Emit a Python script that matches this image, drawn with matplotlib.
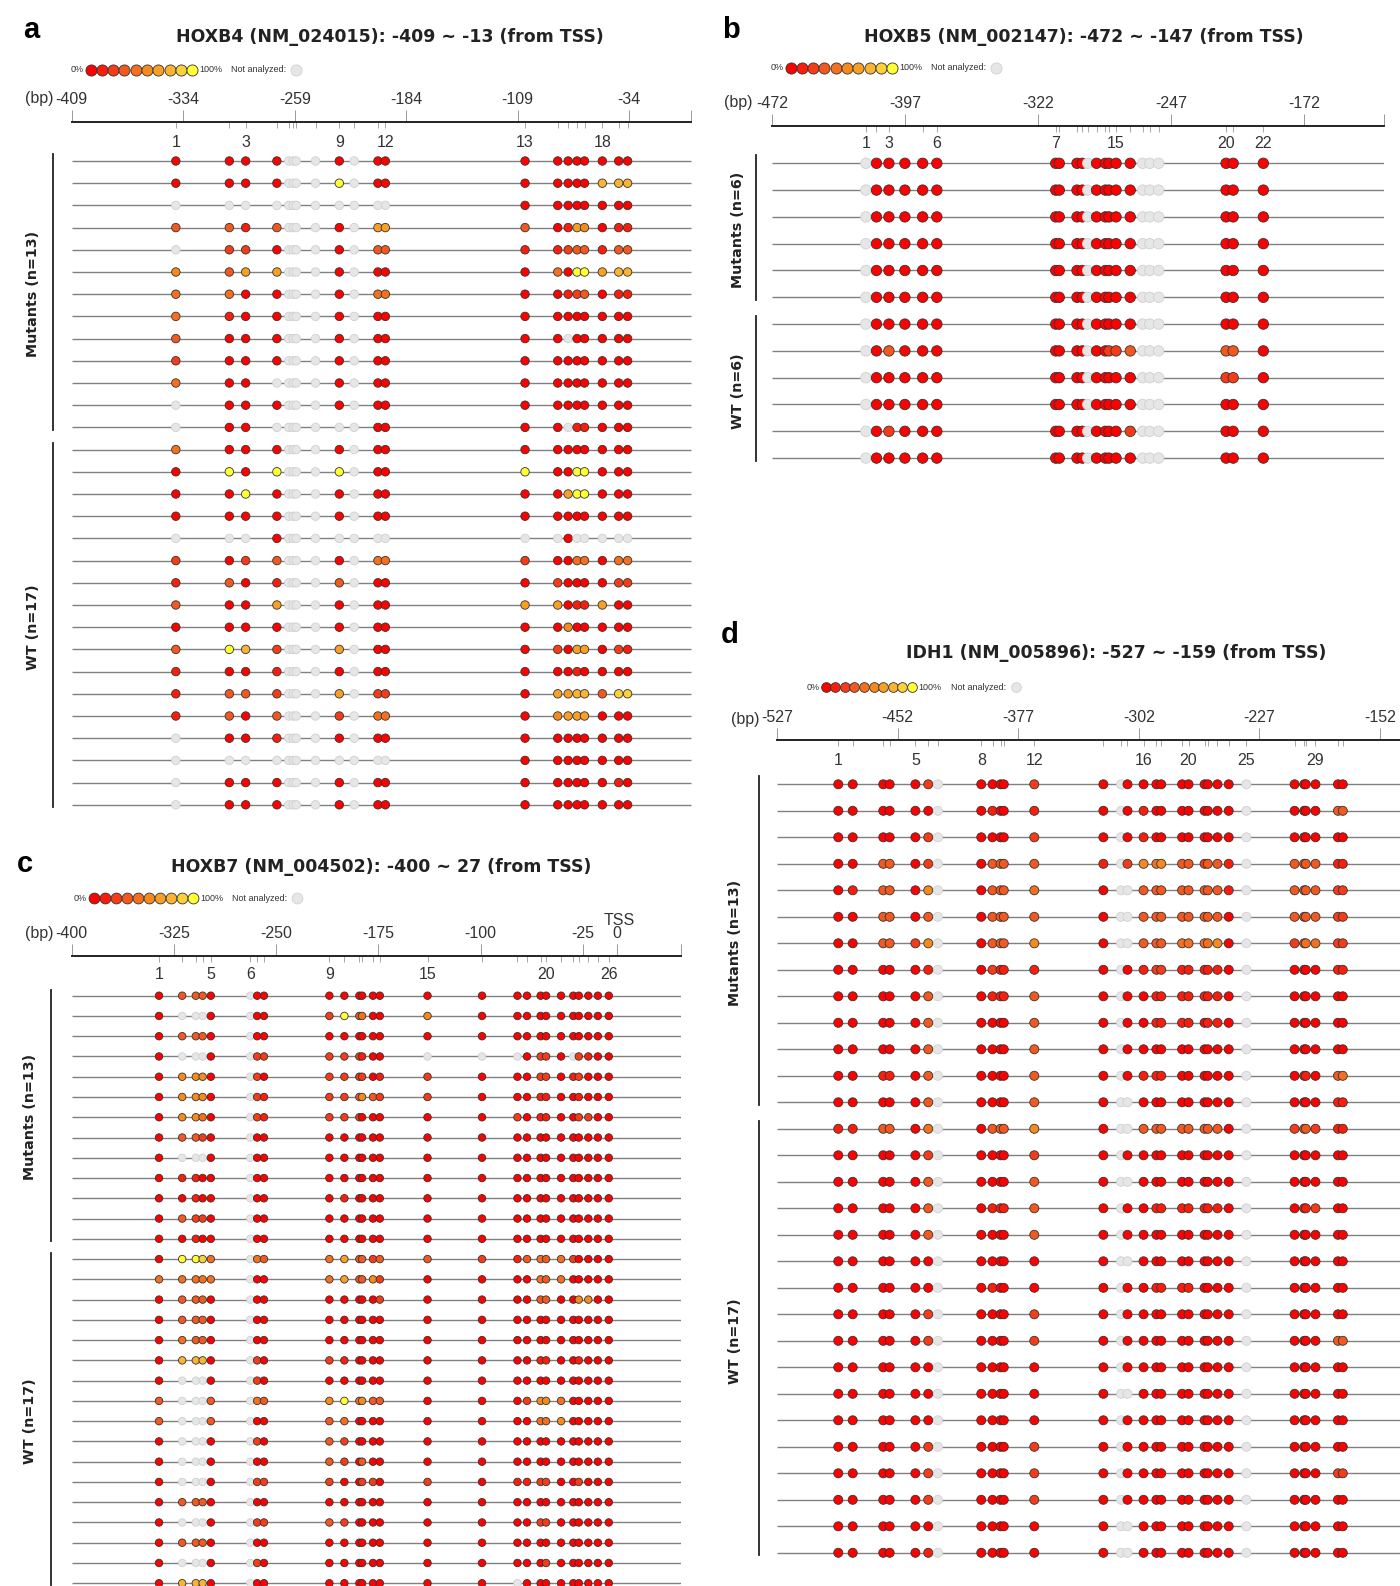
import numpy as np
import matplotlib
matplotlib.use('Agg')
import matplotlib.pyplot as plt
from matplotlib.colors import LinearSegmentedColormap
from matplotlib.lines import Line2D
from matplotlib.transforms import blended_transform_factory

plt.rcParams['font.family'] = ['Liberation Sans', 'DejaVu Sans']

# methylation strings: one char per CpG, '0'..'9' = 0%..100%, '.' = not analyzed
# (spaces only group the CpGs to keep the rows readable)

# HOXB4
hoxb4_cpg = [-339, -303, -292, -271, -263, -260, -258, -245, -229, -219, -203, -198,
             -104, -82, -75, -69, -64, -52, -41, -35]
hoxb4_ticks = [-409, -334, -259, -184, -109, -34]
hoxb4_numbered = [1, 3, 9, 12, 13, 18]
hoxb4_groups = [('Mutants', 13), ('WT', 17)]
hoxb4_rows = [
    "0000 .... 0.00 0 0000 000",
    "0000 .... 9.00 0 0000 777",
    ".... .... .... 0 0000 000",
    "3313 .... 0.66 3 0165 011",
    ".220 .... 0.33 1 1233 133",
    "5366 .... 0.00 0 4099 677",
    "4400 .... 0.44 0 0123 011",
    "4100 .... 0.00 0 0000 000",
    "3000 .... 0.00 0 0.00 000",
    "2000 .... 0.00 0 0000 000",
    "400. .... 0.00 0 0000 000",
    ".000 .... 0.00 0 0000 000",
    ".00. .... ..00 0 0.11 000",
    "4000 .... 0.00 0 0000 000",
    "0909 .... 9.00 9 0099 000",
    "0090 .... 0.00 0 0699 000",
    "0000 .... 0.00 0 0000 000",
    "...0 .... .... . .0.. ...",
    "2023 .... 0.44 2 0044 044",
    "1301 .... 3.00 0 2000 022",
    "3006 .... 0.00 6 6011 600",
    "0000 .... 0.00 0 0500 000",
    "3972 .... 6.00 0 2066 021",
    "1001 .... 0.00 0 0010 000",
    "1332 .... 6.22 0 6677 388",
    "1303 .... 2.44 0 5666 000",
    ".001 .... 0.00 0 0000 000",
    ".... .... .... 0 0000 000",
    ".000 .... 0.00 0 0000 010",
    ".000 .... 0.00 0 0000 000",
]

# HOXB5
hoxb5_cpg = [-419, -413, -406, -397, -387, -379, -312, -310, -300, -297, -294,
             -289, -284, -282, -278, -270, -263, -259, -254, -216, -212, -195]
hoxb5_ticks = [-472, -397, -322, -247, -172]
hoxb5_numbered = [1, 3, 6, 7, 15, 20, 22]
hoxb5_groups = [('Mutants', 6), ('WT', 6)]
hoxb5_rows = [
    ".00000 0000. 00000 ... 000",
    ".00000 0000. 00000 ... 000",
    ".00000 0000. 00000 ... 000",
    ".00000 0000. 00000 ... 000",
    ".00000 0000. 00000 ... 000",
    ".00000 0000. 00000 ... 000",
    ".00000 0000. 00000 ... 000",
    ".03000 0000. 00223 ... 330",
    ".00000 0000. 00000 ... 220",
    ".00000 0000. 00000 ... 000",
    ".02000 0000. 00002 ... 000",
    ".00000 0000. 00000 ... 000",
]

# HOXB7
hoxb7_cpg = [-336, -319, -309, -304, -298, -269, -264, -259, -211, -200, -189, -187,
             -179, -174, -139, -99, -73, -66, -56, -52, -41, -32, -28, -21, -14, -6]
hoxb7_ticks = [-400, -325, -250, -175, -100, -25, 0]
hoxb7_numbered = [1, 5, 6, 9, 15, 20, 26]
hoxb7_groups = [('Mutants', 13), ('WT', 17)]
hoxb7_rows = [
    "03330 .00 000000 0 0 0000000000",
    "0...0 .00 293400 5 0 0000000000",
    "03330 .00 000000 0 0 0000000000",
    "0...0 .22 222100 . . .0220.2100",
    "05550 .20 222201 2 0 0022012000",
    "05550 .21 223532 2 0 0011001000",
    "05540 .21 222000 0 0 2011002200",
    "03320 .00 000000 0 0 0000000000",
    "0...0 .00 000000 0 0 0000000000",
    "01100 .00 000000 0 0 0000000000",
    "00100 .00 010000 0 0 0000000000",
    "03220 .00 000000 0 0 0000000000",
    "00100 .00 000000 0 0 0000000000",
    "09984 .43 463323 3 2 1343420000",
    "44444 .00 463352 0 0 0043400000",
    "03330 .00 000002 0 0 0033005500",
    "03330 .00 000000 0 0 0000000000",
    "04330 .00 000000 0 0 0000000000",
    "07770 .20 210000 0 0 0011001000",
    "0...0 .20 000000 0 0 0000000000",
    "3...3 .43 594533 0 0 0255400000",
    "3...3 .00 340000 0 0 0044500000",
    "0...0 .20 320000 0 0 0000000000",
    "0...0 .00 320300 0 0 0000000000",
    "0...0 .22 200220 2 0 1122002000",
    "03330 .00 000000 0 0 0000000000",
    "0...0 .22 320000 0 0 0022000000",
    "03330 .00 000000 0 0 0000000000",
    "0...0 .20 000000 0 0 0002000000",
    "07770 .00 000000 0 0 .000000000",
]

# IDH1
idh1_cpg = [-489, -480, -461, -457, -441, -433, -427, -400, -393, -388, -386, -367,
            -324, -313, -309, -299, -291, -288, -275, -271, -261, -259, -253, -246,
            -235, -205, -199, -198, -192, -178, -175]
idh1_ticks = [-527, -452, -377, -302, -227, -152]
idh1_numbered = [1, 5, 8, 12, 16, 20, 25, 29]
idh1_groups = [('Mutants', 13), ('WT', 17)]
idh1_rows = [
    "00 00 02. 0000 2 0.0 000 00 0000 . 0000 00",
    "00 00 00. 0100 1 0.0 100 00 0000 . 0000 33",
    "00 00 02. 0000 2 0.0 100 00 0000 . 0000 00",
    "00 33 02. 0333 3 1.2 545 33 2331 . 3333 11",
    "01 33 05. 0333 4 0.. 333 33 3331 . 3333 22",
    "00 33 03. 0333 3 0.. 333 33 3330 . 3333 22",
    "00 33 25. 0333 5 0.. 333 44 4450 . 2344 22",
    "00 00 01. 0211 1 0.0 122 11 1110 . 0000 11",
    "00 00 03. 0111 3 0.0 011 11 1110 . 0000 00",
    "00 00 03. 0000 3 0.0 011 11 0110 . 0000 00",
    "00 00 03. 0000 3 0.0 000 00 0000 . 0000 00",
    "00 11 03. 0000 3 0.0 111 00 0000 . 0110 34",
    "00 00 03. 0000 3 0.. 000 00 0000 . 0000 11",
    "11 33 04. 0333 5 0.. 333 33 3330 . 2332 11",
    "00 00 02. 0000 2 0.0 000 00 0000 . 0000 00",
    "00 00 03. 0000 3 0.. 000 00 0000 . 0000 00",
    "00 00 03. 0111 3 0.0 011 11 1110 . 0112 00",
    "00 00 03. 0000 3 0.0 000 00 0000 . 0000 00",
    "00 00 00. 0000 0 0.. 000 00 0000 . 0000 00",
    "00 00 00. 0100 0 0.0 011 11 0000 . 0000 00",
    "00 00 02. 0000 2 0.0 000 00 0000 . 0000 00",
    "00 00 02. 0000 2 0.0 000 00 0000 . 0000 33",
    "00 00 00. 0000 0 0.0 000 00 0000 . 0000 00",
    "00 00 00. 0000 0 0.. 000 00 0000 . 0000 00",
    "00 00 00. 0000 0 0.0 000 00 0000 . 0000 00",
    "00 00 02. 0000 2 0.0 000 00 0000 . 0000 00",
    "00 00 02. 0000 2 0.0 000 00 0000 . 0000 22",
    "00 00 02. 0000 2 0.0 000 00 0000 . 0000 00",
    "00 00 00. 0000 0 0.. 000 00 0000 . 0000 00",
    "00 00 01. 0000 0 0.. 000 00 0000 . 0000 00",
]

meth_cmap = LinearSegmentedColormap.from_list(
    'meth', [(0, '#ff0000'), (0.3, '#f2501f'), (0.6, '#f7941d'),
             (0.85, '#fbbf3a'), (1, '#ffff33')])
NA_FACE, NA_EDGE = '#e6e6e6', '#d0d0d0'

W, H = 1400, 1586
fig = plt.figure(figsize=(W / 100, H / 100), dpi=100)
PT = 0.72  # points per pixel at 100 dpi
TICK_FS = 11.5


def fx(px):
    return px / W


def fy(py):
    return 1 - py / H


def draw_legend(cx0, y, step, ms):
    fig.text(fx(cx0 - ms * 0.9), fy(y), '0%', ha='right', va='center',
             fontsize=6.5, color='#333')
    for k in range(10):
        fig.add_artist(Line2D([fx(cx0 + k * step)], [fy(y)], marker='o', ms=ms, ls='none',
                              mfc=meth_cmap(k / 9), mec='#333', mew=0.6))
    cx9 = cx0 + 9 * step
    fig.text(fx(cx9 + ms * 0.9), fy(y), '100%', ha='left', va='center',
             fontsize=6.5, color='#333')
    fig.text(fx(cx9 + 39), fy(y), 'Not analyzed:', ha='left', va='center',
             fontsize=6.5, color='#333')
    fig.add_artist(Line2D([fx(cx9 + 104)], [fy(y)], marker='o', ms=ms, ls='none',
                          mfc=NA_FACE, mec=NA_EDGE, mew=0.6))


def draw_panel(letter, title, cpg, rows, ticks, numbered, groups, lay):
    n = len(rows)
    x0, x1 = lay['x']
    b0, b1 = lay['xlim']
    axis_y, row0, dy = lay['axis'], lay['row0'], lay['dy']
    bottom_px = row0 + (n - 0.2) * dy
    ax = fig.add_axes([fx(x0), fy(bottom_px), (x1 - x0) / W, (bottom_px - axis_y) / H])
    ax.set_xlim(b0, b1)
    ax.set_ylim(n - 0.2, -(row0 - axis_y) / dy)
    for s in ['left', 'right', 'bottom']:
        ax.spines[s].set_visible(False)
    ax.spines['top'].set_linewidth(1.4)
    ax.spines['top'].set_color('#222')
    ax.set_yticks([])

    # bp scale on top, CpG sites as inward minor ticks
    ax.xaxis.set_ticks_position('top')
    ax.set_xticks(ticks + [b1], [str(t) for t in ticks] + [''])
    ax.set_xticks(cpg, minor=True)
    ax.tick_params(which='major', direction='out', length=12 * PT, width=0.7,
                   color='#999', pad=2, labelsize=TICK_FS, labelcolor='#333')
    ax.tick_params(which='minor', direction='in', length=6 * PT, width=0.6, color='#999')
    ax.tick_params(which='both', bottom=False, labelbottom=False, top=True, labeltop=True)

    blend = blended_transform_factory(ax.transData, ax.transAxes)
    for k in numbered:
        ax.annotate(str(k), xy=(cpg[k - 1], 1), xycoords=blend,
                    xytext=(0, -(lay['num_base'] - axis_y) * PT), textcoords='offset points',
                    ha='center', va='baseline', fontsize=TICK_FS, color='#333')

    ax.hlines(np.arange(n), b0, b1, color='#808080', lw=1.0, zorder=1)

    xs, ys, fc, ec = [], [], [], []
    for i, r in enumerate(rows):
        for x, ch in zip(cpg, r.replace(' ', '')):
            xs.append(x)
            ys.append(i)
            if ch == '.':
                fc.append(NA_FACE)
                ec.append(NA_EDGE)
            else:
                fc.append(meth_cmap(int(ch) / 9))
                ec.append('#333333')
    ax.scatter(xs, ys, s=lay['ms'] ** 2, c=fc, edgecolors=ec, linewidths=0.6,
               zorder=3, clip_on=False)

    # group brackets on the left
    tr = blended_transform_factory(fig.transFigure, ax.transData)
    start = 0
    for name, cnt in groups:
        first, last = start, start + cnt - 1
        ax.plot([fx(lay['bar'])] * 2, [first - 0.3, last + 0.1], transform=tr,
                color='#222', lw=1.3, clip_on=False)
        ax.text(fx(lay['glab']), (first + last) / 2, f'{name} (n={cnt})', transform=tr,
                rotation=90, ha='center', va='center', fontsize=10.3, fontweight='bold',
                family='DejaVu Sans', color='#222')
        start += cnt

    fig.text(fx(lay['bp'][0]), fy(lay['bp'][1]), '(bp)', ha='right', va='baseline',
             fontsize=TICK_FS, color='#333')
    fig.text(fx(lay['letter'][0]), fy(lay['letter'][1]), letter, ha='left', va='baseline',
             fontsize=21, fontweight='bold')
    fig.text(fx(lay['title'][0]), fy(lay['title'][1]), title, ha='center', va='center',
             fontsize=12.5, fontweight='bold', family='DejaVu Sans', color='#222')
    draw_legend(*lay['legend'])
    return ax


lay_a = dict(x=(71.8, 691.5), xlim=(-409, 8), axis=121.7, row0=161, dy=22.2, ms=6.1,
             num_base=146.7, bar=53, glab=33, bp=(54, 103.3), letter=(23.5, 38.3),
             title=(390, 36.7), legend=(90.5, 70, 11.3, 8))
lay_b = dict(x=(771.8, 1384), xlim=(-472, -127), axis=125.7, row0=163.3, dy=26.8, ms=7.5,
             num_base=148.3, bar=755.6, glab=737.5, bp=(753, 107.3), letter=(722, 38.3),
             title=(1084, 36.7), legend=(790.5, 68, 11.3, 8))
lay_c = dict(x=(71.8, 681), xlim=(-400, 47), axis=956, row0=995.7, dy=20.26, ms=5.4,
             num_base=979.3, bar=50.6, glab=30.3, bp=(54, 938.3), letter=(17, 871.7),
             title=(381, 866.7), legend=(94.2, 898.3, 11, 7.8))
lay_d = dict(x=(777.2, 1400), xlim=(-527, -139.4), axis=740, row0=784.3, dy=26.5, ms=6.5,
             num_base=765, bar=758.7, glab=735.4, bp=(759, 724), letter=(721, 643.3),
             title=(1116, 653.3), legend=(825.6, 687.3, 9.6, 7))

draw_panel('a', 'HOXB4 (NM_024015): -409 ~ -13 (from TSS)', hoxb4_cpg, hoxb4_rows,
           hoxb4_ticks, hoxb4_numbered, hoxb4_groups, lay_a)
draw_panel('b', 'HOXB5 (NM_002147): -472 ~ -147 (from TSS)', hoxb5_cpg, hoxb5_rows,
           hoxb5_ticks, hoxb5_numbered, hoxb5_groups, lay_b)
ax_c = draw_panel('c', 'HOXB7 (NM_004502): -400 ~ 27 (from TSS)', hoxb7_cpg, hoxb7_rows,
                  hoxb7_ticks, hoxb7_numbered, hoxb7_groups, lay_c)
draw_panel('d', 'IDH1 (NM_005896): -527 ~ -159 (from TSS)', idh1_cpg, idh1_rows,
           idh1_ticks, idh1_numbered, idh1_groups, lay_d)

# transcription start site marker above the 0 bp tick
ax_c.annotate('TSS', xy=(0, 1), xycoords=blended_transform_factory(ax_c.transData, ax_c.transAxes),
              xytext=(2 * PT, (956 - 925) * PT), textcoords='offset points',
              ha='center', va='baseline', fontsize=TICK_FS, color='#333')

fig.savefig('out.png', dpi=100)
